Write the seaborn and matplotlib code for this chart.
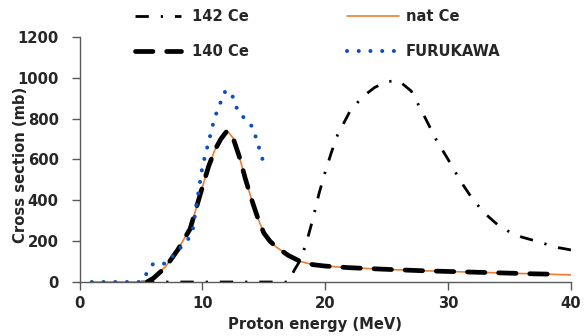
import matplotlib
matplotlib.use("Agg")
import matplotlib.pyplot as plt
import seaborn as sns
import pandas as pd

# 142 Ce (dash-dot)
e142 = [5, 17, 17.5, 18, 18.5, 19, 19.5, 20, 20.5, 21, 22, 23, 24, 25, 26, 27, 28,
        29, 30, 31, 32, 33, 34, 35, 36, 37, 38, 39, 40]
xs142 = [0, 0, 60, 110, 200, 310, 435, 540, 635, 720, 835, 905, 952, 982, 985, 935,
         820, 700, 600, 495, 405, 335, 282, 245, 220, 203, 185, 168, 157]

# nat Ce (orange solid)
e_nat = [1, 5.3, 6, 7, 8, 9, 10, 10.5, 11, 11.5, 12, 12.5, 13, 13.5, 14, 14.5, 15,
         15.5, 16, 17, 18, 19, 20, 22, 25, 28, 31, 34, 37, 40]
xs_nat = [0, 0, 22, 75, 160, 260, 465, 565, 645, 700, 742, 705, 615, 505, 405, 315,
          240, 200, 172, 130, 100, 85, 78, 70, 62, 55, 50, 45, 40, 35]

# 140 Ce (thick dashed)
e140 = [5.5, 6, 7, 8, 9, 10, 10.5, 11, 11.5, 12, 12.5, 13, 13.5, 14, 14.5, 15,
        15.5, 16, 17, 18, 19, 20, 22, 25, 28, 31, 34, 37, 38.7]
xs140 = [0, 18, 72, 158, 260, 465, 565, 645, 700, 740, 705, 615, 505, 405, 315,
         240, 200, 172, 130, 100, 85, 78, 70, 62, 55, 50, 45, 40, 38]

# FURUKAWA (blue dots)
e_fur = [1, 5, 6, 7, 8.8, 9.2, 10.0, 11.0, 11.8, 12.3, 12.9, 13.5, 14.1, 14.9]
xs_fur = [0, 0, 90, 90, 205, 250, 565, 805, 930, 935, 835, 797, 758, 600]

sns.set_theme(style="white")
plt.rcParams['font.family'] = ['DejaVu Sans']
plt.rcParams['font.weight'] = 'bold'
FS = 10.6

fig = plt.figure(figsize=(5.86, 3.36), dpi=100)
ax = fig.add_axes([0.1357, 0.1607, 0.9744 - 0.1357, 0.8899 - 0.1607])

series = [
    ('142 Ce', e142, xs142, dict(color='black', lw=2.0)),
    ('nat Ce', e_nat, xs_nat, dict(color='#ED7D31', lw=1.2)),
    ('140 Ce', e140, xs140, dict(color='black', lw=3.4)),
    ('FURUKAWA', e_fur, xs_fur, dict(color='#0A4EC2', lw=2.9)),
]
line_dashes = {'142 Ce': (4.8, 4.3, 0.8, 4.3), '140 Ce': (3.7, 2.9), 'FURUKAWA': (0.01, 2.9)}

lines = {}
for name, e, xs, kw in series:
    df = pd.DataFrame({'E': e, 'xs': xs})
    before = len(ax.lines)
    sns.lineplot(data=df, x='E', y='xs', ax=ax, sort=False, legend=False, **kw)
    ln = ax.lines[before]
    if name in line_dashes:
        ln.set_linestyle((0, line_dashes[name]))
        ln.set_dash_capstyle('round' if name != '142 Ce' else 'butt')
    lines[name] = ln

ax.set_xlim(0, 40)
ax.set_ylim(0, 1200)
ax.set_xticks([0, 10, 20, 30, 40])
ax.set_yticks([0, 200, 400, 600, 800, 1000, 1200])
ax.set_xlabel('Proton energy (MeV)', fontsize=FS, fontweight='bold')
ax.set_ylabel('Cross section (mb)', fontsize=FS, fontweight='bold')
ax.xaxis.set_label_coords(0.479, -0.143)
ax.yaxis.set_label_coords(-0.105, 0.478)
ax.tick_params(axis='both', labelsize=FS, length=6, width=1, color='#595959',
               direction='out', bottom=True, left=True)
ax.tick_params(axis='y', pad=9)
ax.tick_params(axis='x', pad=4)
for lab in ax.get_xticklabels() + ax.get_yticklabels():
    lab.set_fontweight('bold')

for s in ['top', 'right']:
    ax.spines[s].set_visible(False)
for s in ['left', 'bottom']:
    ax.spines[s].set_color('#595959')
    ax.spines[s].set_linewidth(1)

leg_kw = dict(loc='upper left', frameon=False, prop={'weight': 'bold', 'size': FS},
              handlelength=3.1, labelspacing=1.35, handletextpad=0.8,
              borderpad=0, borderaxespad=0, bbox_transform=fig.transFigure)
fig.legend([lines['142 Ce'], lines['140 Ce']], ['142 Ce', '140 Ce'],
           bbox_to_anchor=(135 / 586, 1 - 9 / 336), **leg_kw)
fig.legend([lines['nat Ce'], lines['FURUKAWA']], ['nat Ce', 'FURUKAWA'],
           bbox_to_anchor=(347 / 586, 1 - 9 / 336),
           **{**leg_kw, 'handlelength': 3.5, 'handletextpad': 0.5})

fig.savefig('out.png', dpi=100)
